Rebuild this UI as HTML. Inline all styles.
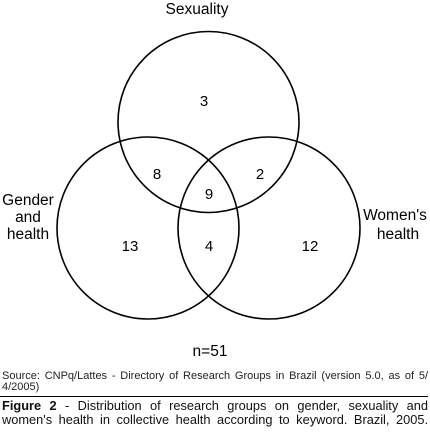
<!DOCTYPE html>
<html><head><meta charset="utf-8"><style>
body{margin:0;width:430px;height:432px;background:#fff;overflow:hidden;font-family:"Liberation Sans",sans-serif;position:relative}
svg{position:absolute;left:0;top:0}
.ln{position:absolute;left:2px;width:426px;white-space:nowrap;color:#222}
.j{text-align:justify;text-align-last:justify}
.src{font-size:11px;line-height:11px}
.sep{position:absolute;left:0;width:428px;top:396px;border-top:1.3px solid #000}
.cap{font-size:12.8px;line-height:14px;color:#111}
</style></head><body>
<svg width="430" height="370">
<g id="circles" fill="none" stroke="#000" stroke-width="1.6"></g>
<g id="labels" font-family="Liberation Sans, sans-serif" font-size="15" text-anchor="middle" fill="#000"></g>
</svg>
<div>
<div class="ln src j" style="top:371px">Source: CNPq/Lattes - Directory of Research Groups in Brazil (version 5.0, as of 5/</div>
<div class="ln src" style="top:382px">4/2005)</div>
</div>
<div class="sep"></div>
<div>
<div class="ln cap j" style="top:399px"><b>Figure 2</b> - Distribution of research groups on gender, sexuality and</div>
<div class="ln cap j" style="top:413px">women's health in collective health according to keyword. Brazil, 2005.</div>
</div>
<script>
const sets=["Sexuality","Gender and health","Women's health"];
const regions=["only-sexuality","sexuality-gender","sexuality-women","all-three","only-gender","gender-women","only-women"];
const counts=[3,8,2,9,13,4,12];
const total="n=51";
const ns="http://www.w3.org/2000/svg";
const circ=[[208.5,122,90.5],[148,228,91],[269,228,91]];
const g=document.getElementById('circles');
circ.forEach((c,i)=>{const e=document.createElementNS(ns,'circle');
e.setAttribute('cx',c[0]);e.setAttribute('cy',c[1]);e.setAttribute('r',c[2]);


g.appendChild(e);});
const pos=[[204,106],[157,179],[260,179],[209,199],[130,251],[209,251],[310,251]];
const L=document.getElementById('labels');
function txt(x,y,s,name,size){const t=document.createElementNS(ns,'text');t.setAttribute('x',x);t.setAttribute('y',y);if(size)t.setAttribute('font-size',size);t.textContent=s;


L.appendChild(t);}
counts.forEach((v,i)=>txt(pos[i][0],pos[i][1],v,'count-'+regions[i]));
txt(197,14,sets[0],'label-sexuality',15.5);
txt(28,205,"Gender",'label-gender',15.5);txt(28,222,"and",'label-gender-and',15.5);txt(28,239,"health",'label-gender-health',15.5);
txt(395,220,"Women's",'label-womens',15.5);txt(398,239,"health",'label-womens-health',15.5);
txt(210,356,total,'total-n',15.5);
</script>
</body></html>
